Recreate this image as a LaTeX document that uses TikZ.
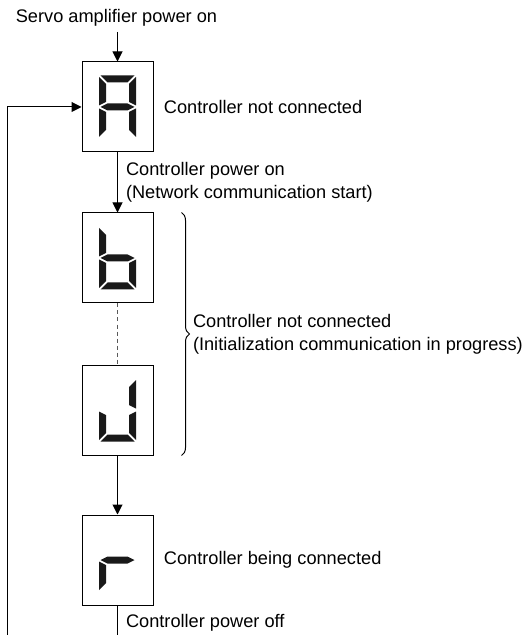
\documentclass[tikz,border=0pt]{standalone}
\usepackage{fontspec}
\setmainfont{Liberation Sans}
\usetikzlibrary{arrows.meta,positioning,decorations.pathreplacing}

\colorlet{segcol}{black!90}
\tikzset{
  disp/.style={draw,line width=0.5pt,minimum width=35.5pt,minimum height=45pt,inner sep=0pt},
  lbl/.style={inner sep=0pt,align=left,font=\fontsize{9.1}{11.5}\selectfont},
  arr/.style={line width=0.5pt,-{Triangle[length=5pt,width=5pt]}},
  % seven segments of one digit
  sega/.pic={\fill[segcol] (-17,-31.5) -- (17,-31.5) -- (10,-24.5) -- (-10,-24.5) -- cycle;},
  segb/.pic={\fill[segcol] (18.5,-30) -- (11.5,-23) -- (11.5,-5) -- (18.5,-1.5) -- cycle;},
  segc/.pic={\fill[segcol] (18.5,30) -- (11.5,23) -- (11.5,5) -- (18.5,1.5) -- cycle;},
  segd/.pic={\fill[segcol] (-17,31.5) -- (17,31.5) -- (10,24.5) -- (-10,24.5) -- cycle;},
  sege/.pic={\fill[segcol] (-18.5,30) -- (-11.5,23) -- (-11.5,5) -- (-18.5,1.5) -- cycle;},
  segf/.pic={\fill[segcol] (-18.5,-30) -- (-11.5,-23) -- (-11.5,-5) -- (-18.5,-1.5) -- cycle;},
  segg/.pic={\fill[segcol] (-17,0) -- (-10,-3.5) -- (10,-3.5) -- (17,0) -- (10,3.5) -- (-10,3.5) -- cycle;},
}
\newcommand{\showsegs}[2]{\foreach \s in {#2} {\pic at (#1) {seg\s};}}

\begin{document}
\begin{tikzpicture}[x=0.5pt,y=-0.5pt]
\useasboundingbox (0,0) rectangle (528,635);

\node[lbl] (start) at (116.5,18) {Servo amplifier power on};
\coordinate (startend) at (117.5,32);

\node[disp] (A) at (117.5,107) {};
\node[disp] (b) at (117.5,258) {};
\node[disp] (u) at (117.5,410) {};
\node[disp] (r) at (117.5,560) {};
\showsegs{A}{a,b,c,e,f,g}
\showsegs{b}{c,d,e,f,g}
\showsegs{u}{b,c,d,e}
\showsegs{r}{e,g}

\node[lbl,right=5pt of A] (Atext) {Controller not connected};
\node[lbl,right=5pt of r] (rtext) {Controller being connected};

\draw[arr] (startend) -- (A);
\draw[arr] (A) -- node[lbl,right=4pt] (pon) {Controller power on\\(Network communication start)} (b);
\draw[line width=0.5pt,black!65,dash pattern=on 2pt off 1.5pt] (b) -- (u);
\draw[arr] (u) -- (r);
%
\draw[line width=0.5pt,decorate,decoration={brace,amplitude=4pt}]
  ([xshift=14pt]b.north east) -- node[lbl,right=5.5pt] (init) {Controller not connected\\(Initialization communication in progress)} ([xshift=14pt]u.south east);

\coordinate (offend) at (117.5,635);
\draw[line width=0.5pt] (r) -- node[lbl,right=4pt,pos=0.57] (poff) {Controller power off} (offend);
\coordinate (back) at (7,635);
\draw[arr] (back) |- (A.west);
\end{tikzpicture}
\end{document}
